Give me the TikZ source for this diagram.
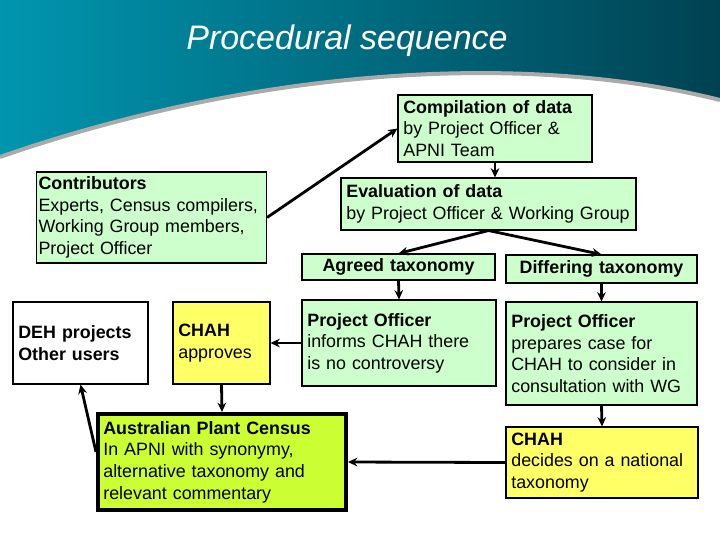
\documentclass[tikz,border=0pt]{standalone}
\usepackage{fontspec}
\setmainfont{Liberation Sans}
\usetikzlibrary{arrows.meta}

\definecolor{tealleft}{RGB}{0,150,175}
\definecolor{tealright}{RGB}{0,66,82}
\definecolor{curvegray}{RGB}{170,170,170}
\definecolor{boxgreen}{RGB}{204,255,204}
\definecolor{boxyellow}{RGB}{255,255,102}
\definecolor{boxlime}{RGB}{204,255,51}

\begin{document}
\begin{tikzpicture}[x=0.75pt, y=-0.75pt, box/.style={draw, line width=0.8pt, align=left, inner xsep=4pt, inner ysep=0pt, font=\fontsize{13.4}{16.2}\selectfont}, greenbox/.style={box, fill=boxgreen}, yellowbox/.style={box, fill=boxyellow}, arr/.style={-{Stealth[length=7pt, width=6.5pt]}, line width=2.1pt}]
    % background and banner
    \useasboundingbox (0,0) rectangle (720,540);
    \fill[white] (0,0) rectangle (720,540);
    \shade[left color=tealleft, right color=tealright] (0,0) -- (720,0) -- (720,100) .. controls (520,50) and (250,70) .. (0,157) -- cycle;
    \draw[curvegray, line width=3pt] (720,100) .. controls (520,50) and (250,70) .. (0,157);
    \node[text=white, font=\fontsize{25.5}{30}\selectfont\itshape] (title) at (347,41) {Procedural sequence};

    % boxes
    \node[greenbox, text width=137.5pt, minimum height=50.25pt] (comp) at (495,128.5) {\textbf{Compilation of data}\\by Project Officer \&\\APNI Team};
    \node[greenbox, text width=213.25pt, minimum height=39pt] (eval) at (488.5,204) {\textbf{Evaluation of data}\\by Project Officer \& Working Group};
    \node[greenbox, inner xsep=1.5pt, text width=169.5pt, minimum height=68.25pt] (contrib) at (151.5,217.5) {\textbf{Contributors}\\Experts, Census compilers,\\Working Group members,\\Project Officer};
    \node[greenbox, align=center, text width=136.75pt, minimum height=19.5pt] (agreed) at (398.5,267) {\textbf{Agreed taxonomy}};
    \node[greenbox, align=center, text width=135.25pt, minimum height=21pt] (differ) at (601.5,269) {\textbf{Differing taxonomy}};
    \node[greenbox, text width=137.5pt, minimum height=64.5pt] (poinform) at (399,343) {\textbf{Project Officer}\\informs CHAH there\\is no controversy};
    \node[greenbox, text width=135.25pt, minimum height=77.25pt] (poprep) at (601.5,353.5) {\textbf{Project Officer}\\prepares case for\\CHAH to consider in\\consultation with WG};
    \node[box, fill=white, text width=93.25pt, minimum height=61.5pt] (deh) at (80.5,343) {\textbf{DEH projects}\\\textbf{Other users}};
    \node[yellowbox, text width=64.75pt, minimum height=61.5pt] (chahok) at (221.5,343) {\textbf{CHAH}\\approves};
    \node[box, fill=boxlime, line width=3pt, text width=178pt, minimum height=72pt] (census) at (222,462) {\textbf{Australian Plant Census}\\In APNI with synonymy,\\alternative taxonomy and\\relevant commentary};
    \node[yellowbox, text width=136pt, minimum height=53.25pt] (chahdec) at (602,462.5) {\textbf{CHAH}\\decides on a national\\taxonomy};

    % connectors
    \draw[arr] (contrib.east) -- (comp.west);
    \draw[arr] (comp.south) -- (comp.south |- eval.north);
    \draw[arr] (eval.south) -- (agreed.north);
    \draw[arr] (eval.south) -- (differ.north);
    \draw[arr] (agreed.south) -- (poinform.north);
    \draw[arr] (differ.south) -- (poprep.north);
    \draw[arr] (poinform.west) -- (chahok.east);
    \draw[arr] (poprep.south) -- (chahdec.north);
    \draw[arr] (chahdec.west) -- (census.east);
    \draw[arr] (chahok.south) -- (census.north);
    \draw[arr] ([yshift=7.5pt]census.west) -- (deh.south);
  \end{tikzpicture}
\end{document}
